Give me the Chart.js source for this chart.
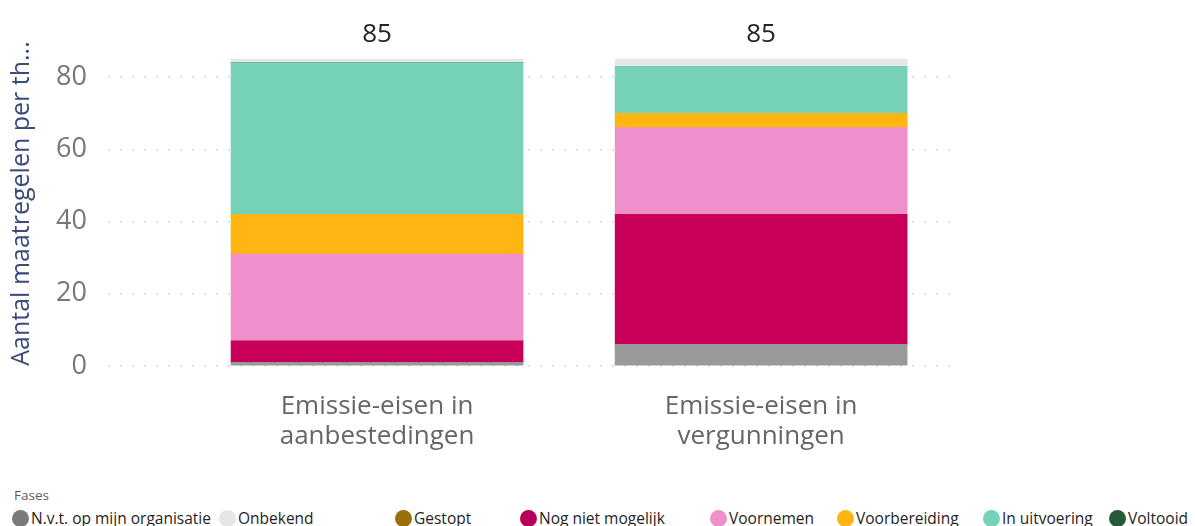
<!DOCTYPE html>
<html>
<head>
<meta charset="utf-8">
<script src="https://cdn.jsdelivr.net/npm/chart.js@4"></script>
<style>
  html, body { margin: 0; padding: 0; background: #ffffff; }
  body { width: 1195px; height: 526px; position: relative; overflow: hidden; font-family: "Segoe UI", "Open Sans", "DejaVu Sans", sans-serif; }
  #wrap { position: absolute; left: 0; top: 0; width: 1195px; height: 480px; }
  #legendTitle { position: absolute; left: 14px; top: 486px; font-size: 13.5px; line-height: 18px; color: #605e5c; }
  .li { position: absolute; top: 507px; height: 22px; display: flex; align-items: center; font-size: 15.5px; color: #252423; white-space: nowrap; }
  .li span.dot { display: inline-block; width: 17px; height: 17px; border-radius: 50%; margin-right: 2px; }
</style>
</head>
<body>
<div id="wrap"><canvas id="c"></canvas></div>
<div id="legendTitle">Fases</div>
<div id="legend"></div>
<script>
// ---- data ----
const categories = [["Emissie-eisen in", "aanbestedingen"], ["Emissie-eisen in", "vergunningen"]];
const seriesNames = ["N.v.t. op mijn organisatie", "Onbekend", "Gestopt", "Nog niet mogelijk", "Voornemen", "Voorbereiding", "In uitvoering", "Voltooid"];
const nvt = [1, 6];
const onbekend = [1, 2];
const gestopt = [0, 0];
const nogNietMogelijk = [6, 36];
const voornemen = [24, 24];
const voorbereiding = [11, 4];
const inUitvoering = [42, 13];
const voltooid = [0, 0];
const yTicks = [0, 20, 40, 60, 80];
const yTitle = "Aantal maatregelen per th...";

// ---- styles ----
const barColors = {
  "N.v.t. op mijn organisatie": "#999999",
  "Onbekend": "#e6e6e6",
  "Gestopt": "#99700a",
  "Nog niet mogelijk": "#c8005a",
  "Voornemen": "#ef90cb",
  "Voorbereiding": "#ffb512",
  "In uitvoering": "#76d2b6",
  "Voltooid": "#245a37"
};
const legendColors = Object.assign({}, barColors, { "N.v.t. op mijn organisatie": "#7a7a7a", "Nog niet mogelijk": "#b8005a" });
const legendLeft = [12, 219, 395, 520, 710, 837, 983, 1109];

const valuesByName = {
  "N.v.t. op mijn organisatie": nvt,
  "Onbekend": onbekend,
  "Gestopt": gestopt,
  "Nog niet mogelijk": nogNietMogelijk,
  "Voornemen": voornemen,
  "Voorbereiding": voorbereiding,
  "In uitvoering": inUitvoering,
  "Voltooid": voltooid
};
// stacking order, bottom to top
const stackOrder = ["N.v.t. op mijn organisatie", "Gestopt", "Nog niet mogelijk", "Voornemen", "Voorbereiding", "In uitvoering", "Voltooid", "Onbekend"];

const datasets = stackOrder.map(name => ({
  label: name,
  data: valuesByName[name].map((v, i) => ({ x: i, y: v })),
  backgroundColor: barColors[name],
  borderWidth: 0,
  barThickness: 292
}));

const FONT = "'Segoe UI', 'Open Sans', 'DejaVu Sans', sans-serif";

const totalsPlugin = {
  id: 'totals',
  afterDatasetsDraw(chart) {
    const ctx = chart.ctx;
    const xs = chart.scales.x, ys = chart.scales.y;
    ctx.save();
    ctx.font = "26px " + FONT;
    ctx.fillStyle = "#252423";
    ctx.textAlign = "center";
    ctx.textBaseline = "middle";
    categories.forEach((c, i) => {
      let total = 0;
      seriesNames.forEach(n => { total += valuesByName[n][i]; });
      ctx.fillText(String(total), xs.getPixelForValue(i), ys.getPixelForValue(total) - 24);
    });
    ctx.restore();
  }
};

new Chart(document.getElementById('c'), {
  type: 'bar',
  data: { datasets },
  plugins: [totalsPlugin],
  options: {
    responsive: true,
    maintainAspectRatio: false,
    animation: false,
    layout: { padding: { top: 41, right: 238, left: 0, bottom: 0 } },
    plugins: { legend: { display: false }, tooltip: { enabled: false } },
    scales: {
      x: {
        type: 'linear',
        stacked: true,
        offset: false,
        min: -0.7005,
        max: 1.51,
        afterBuildTicks: s => { s.ticks = categories.map((c, i) => ({ value: i })); },
        afterFit: s => { s.height = 114; },
        grid: { display: false, drawTicks: false, offset: false },
        border: { display: false },
        ticks: {
          autoSkip: false,
          maxRotation: 0,
          padding: 26,
          color: "#666666",
          font: { family: FONT, size: 26, lineHeight: 1.15 },
          callback: (v) => categories[v]
        }
      },
      y: {
        stacked: true,
        min: 0,
        max: 90,
        afterBuildTicks: s => { s.ticks = yTicks.map(v => ({ value: v })); },
        afterFit: s => { s.width = 108; },
        grid: { color: "#c9d7e6", lineWidth: 1.5, drawTicks: false },
        border: { display: false, dash: [2, 10] },
        ticks: {
          padding: 21,
          color: "#777777",
          font: { family: FONT, size: 27 }
        },
        title: {
          display: true,
          text: yTitle,
          color: "#3a4a7a",
          font: { family: FONT, size: 25 },
          padding: { top: 7, bottom: 0 }
        }
      }
    }
  }
});

// HTML legend from series names
const legend = document.getElementById('legend');
seriesNames.forEach((name, i) => {
  const d = document.createElement('div');
  d.className = 'li';
  d.style.left = legendLeft[i] + 'px';
  const dot = document.createElement('span');
  dot.className = 'dot';
  dot.style.background = legendColors[name];
  d.appendChild(dot);
  d.appendChild(document.createTextNode(name));
  legend.appendChild(d);
});
</script>
</body>
</html>
